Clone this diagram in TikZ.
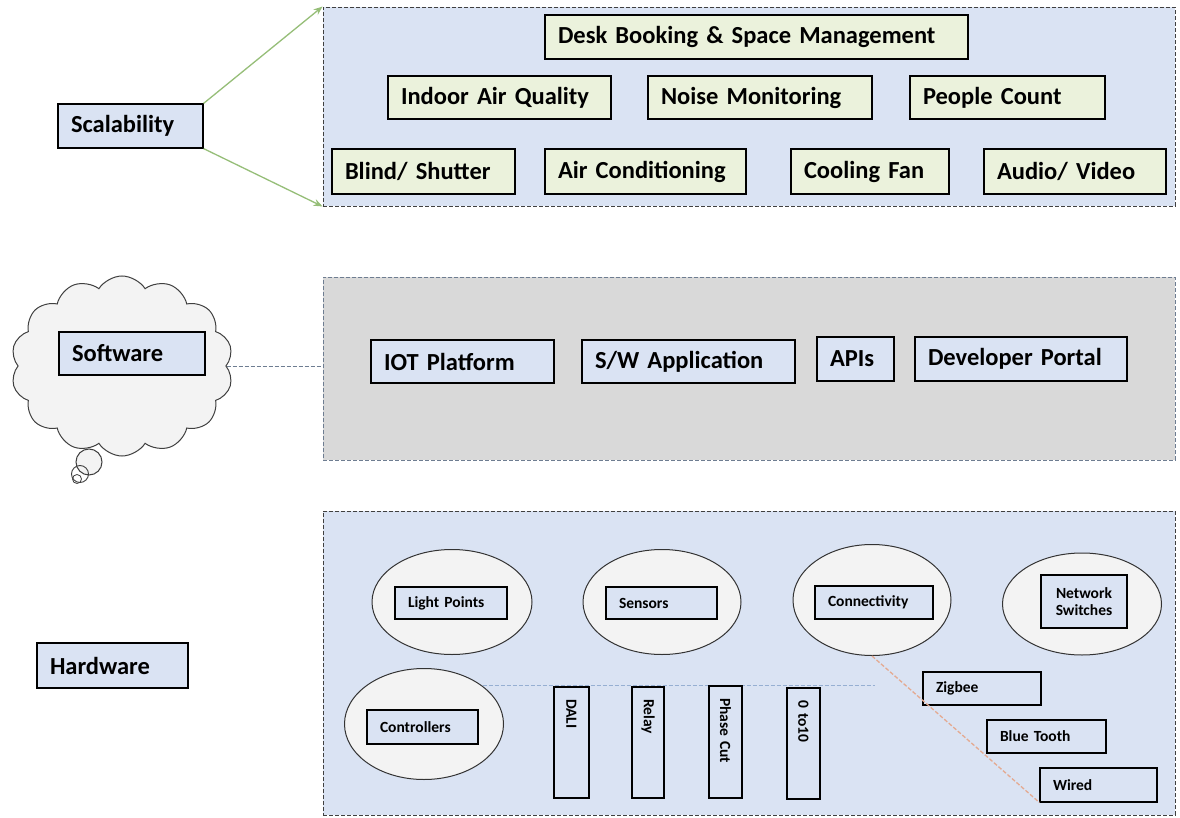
\documentclass[tikz,border=0pt]{standalone}
\usepackage{fontspec}
\setmainfont{Carlito}
\usetikzlibrary{shapes.geometric,shapes.symbols,arrows.meta}
\definecolor{lblue}{RGB}{218,227,243}
\definecolor{lgreen}{RGB}{235,242,220}
\definecolor{sgray}{RGB}{217,217,217}
\definecolor{ewhite}{RGB}{243,243,243}
\definecolor{agreen}{RGB}{150,190,120}
\definecolor{dblue}{RGB}{150,175,210}
\definecolor{dorange}{RGB}{228,170,145}
\definecolor{gborder}{RGB}{110,125,145}
\newcommand\bx[7]{%
  \pgfmathsetmacro\bw{#5-#3}\pgfmathsetmacro\bh{#6-#4}%
  \pgfmathsetmacro\bcx{(#3+#5)/2}\pgfmathsetmacro\bcy{(#4+#6)/2}%
  \pgfmathsetmacro\btw{max(#5-#3-26,1)}%
  \node[#1, minimum width=\bw pt, minimum height=\bh pt, text width=\btw pt] (#2) at (\bcx,\bcy) {#7};}
\newcommand\vbx[7]{%
  \pgfmathsetmacro\bw{#5-#3}\pgfmathsetmacro\bh{#6-#4}%
  \pgfmathsetmacro\bcx{(#3+#5)/2}\pgfmathsetmacro\bcy{(#4+#6)/2}%
  \pgfmathsetmacro\btw{max(#6-#4-24,1)}%
  \node[#1, rotate=-90, minimum width=\bh pt, minimum height=\bw pt, text width=\btw pt] (#2) at (\bcx,\bcy) {#7};}
\begin{document}
\begin{tikzpicture}[x=1pt,y=-1pt,
  bigbox/.style={draw=black!75, dashed, dash pattern=on 4pt off 2pt, line width=0.9pt, inner sep=0pt},
  biglbl/.style={draw=black, line width=1.2pt, fill=lblue, inner xsep=13pt, inner ysep=0pt, align=left, font=\fontsize{24.5}{27}\selectfont\bfseries},
  gbox/.style={biglbl, fill=lgreen},
  slbl/.style={draw=black, line width=1.1pt, fill=lblue, inner xsep=13pt, inner ysep=0pt, align=left, font=\fontsize{15.5}{17}\selectfont\bfseries},
  vlbl/.style={slbl, inner xsep=12pt},
  ell/.style={ellipse, draw=black!80, line width=1pt, fill=ewhite, inner sep=0pt},
  garrow/.style={draw=agreen, line width=1.3pt, -{Stealth[length=9pt,width=7pt]}}
]
\useasboundingbox (0,0) rectangle (1180,818);
\fill[white] (0,0) rectangle (1180,818);

% ---- Scalability row ----
\bx{bigbox, fill=lblue}{scbox}{323}{7}{1175}{206}{}
\bx{biglbl}{scal}{58}{104}{203}{148}{Scalability}
\bx{gbox}{desk}{545}{15}{968}{59}{Desk Booking \& Space Management}
\bx{gbox}{iaq}{388}{76}{611}{119}{Indoor Air Quality}
\bx{gbox}{noise}{648}{76}{872}{119}{Noise Monitoring}
\bx{gbox}{people}{910}{76}{1105}{119}{People Count}
\bx{gbox}{blind}{332}{149}{515}{194}{Blind/ Shutter}
\bx{gbox}{aircon}{545}{149}{746}{194}{Air Conditioning}
\bx{gbox}{fan}{791}{149}{949}{194}{Cooling Fan}
\bx{gbox}{av}{984}{149}{1166}{194}{Audio/ Video}
\draw[garrow] (scal.north east) -- (scbox.north west);
\draw[garrow] (scal.south east) -- (scbox.south west);

% ---- Software row ----
\node[cloud, cloud puffs=14, cloud puff arc=115, aspect=1.15, draw=black!75, line width=1pt, fill=ewhite,
      minimum width=222pt, minimum height=180pt, inner sep=0pt] (cloud) at (122,366) {};
\node[circle, draw=black!75, line width=1pt, fill=ewhite, minimum size=26pt, inner sep=0pt] (b1) at (89,462) {};
\node[circle, draw=black!75, line width=0.9pt, minimum size=17pt, inner sep=0pt] (b2) at (80,474) {};
\node[circle, draw=black!75, line width=0.8pt, minimum size=9pt, inner sep=0pt] (b3) at (77,479) {};
\bx{biglbl}{soft}{59}{332}{205}{375}{Software}
\bx{bigbox, fill=sgray, draw=gborder}{swbox}{323}{277}{1175}{460}{}
\draw[draw=gborder, dashed, dash pattern=on 4pt off 2pt, line width=0.9pt] (cloud.east) -- (cloud.east -| swbox.west);
\bx{biglbl}{iot}{371}{340}{554}{383}{IOT Platform}
\bx{biglbl}{swapp}{582}{340}{795}{383}{S/W Application}
\bx{biglbl}{apis}{817}{337}{894}{381}{APIs}
\bx{biglbl}{dev}{915}{337}{1127}{381}{Developer Portal}

% ---- Hardware row ----
\bx{biglbl}{hard}{37}{643}{188}{688}{Hardware}
\bx{bigbox, fill=lblue}{hwbox}{323}{511}{1175}{815}{}

\node[ell, minimum width=160pt, minimum height=105pt] (lpE) at (452,602) {};
\node[ell, minimum width=158pt, minimum height=105pt] (snE) at (662,602) {};
\node[ell, minimum width=158pt, minimum height=111pt] (cnE) at (872,600) {};
\node[ell, minimum width=159pt, minimum height=102pt] (nwE) at (1082,604) {};
\node[ell, minimum width=159pt, minimum height=111pt] (ctE) at (424,724) {};

\bx{slbl}{lp}{395}{587}{507}{619}{Light Points}
\bx{slbl}{sn}{606}{587}{717}{619}{Sensors}
\bx{slbl}{cn}{815}{586}{933}{619}{Connectivity}
\bx{slbl, align=center, inner xsep=4pt}{nw}{1041}{575}{1127}{628}{Network\\Switches}
\bx{slbl}{ct}{367}{710}{478}{744}{Controllers}

\coordinate (dl) at (875,686);
\draw[draw=dblue, dashed, dash pattern=on 4pt off 2pt, line width=1pt] (ctE.33) -- (ctE.33 -| dl);

\vbx{vlbl}{dali}{554}{687}{589}{798}{DALI}
\vbx{vlbl}{relay}{632}{687}{664}{798}{Relay}
\vbx{vlbl}{phase}{709}{686}{742}{798}{Phase Cut}
\vbx{vlbl}{zto}{787}{688}{820}{799}{0 to10}

\bx{slbl}{zig}{923}{672}{1041}{705}{Zigbee}
\bx{slbl}{bt}{987}{720}{1106}{753}{Blue Tooth}
\bx{slbl}{wired}{1040}{768}{1157}{802}{Wired}

\draw[draw=dorange, dashed, dash pattern=on 4pt off 2pt, line width=1.3pt] (cnE.south) -- (wired.south west);
\end{tikzpicture}
\end{document}
